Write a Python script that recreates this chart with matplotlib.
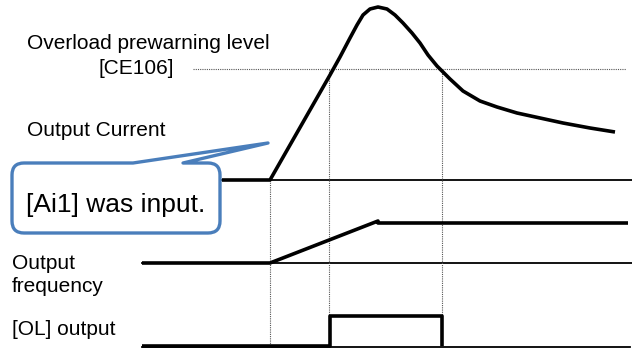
import matplotlib
matplotlib.use('Agg')
import matplotlib.pyplot as plt
from matplotlib.path import Path
from matplotlib.patches import PathPatch

# everything is in picture units (x right, y down)
# output current curve
cur_x = [222, 270, 330, 340, 350, 357, 363, 370, 378, 387, 395, 403, 412, 420, 428, 437,
         445, 450, 463, 480, 497, 517, 540, 563, 590, 615]
cur_y = [180, 180, 75, 57, 38, 25, 15, 9, 7, 9, 15, 23, 33, 43, 55, 66,
         74, 79, 91, 101, 107, 113, 118, 123, 128, 132]

# output frequency
frq_x = [142, 270, 378, 378, 628]
frq_y = [263, 263, 221, 223, 223]

# [OL] output
ol_x = [142, 330, 330, 442, 442]
ol_y = [346, 346, 316, 316, 346]

level_y = 69          # overload prewarning level [CE106]
cross_x = [329, 442]  # where current crosses the level
start_x = 270         # [Ai1] input

fig = plt.figure(figsize=(6.32, 3.49), dpi=100)
ax = fig.add_axes([0, 0, 1, 1])
ax.set_xlim(0, 632)
ax.set_ylim(349, 0)
ax.axis('off')

thick = 2.6
thin = 1.3
dot = dict(color='#555555', lw=0.8, linestyle=(0, (1, 1)))

# baselines
ax.plot([222, 632], [180, 180], color='black', lw=thin)
ax.plot([142, 632], [263, 263], color='black', lw=thin)
ax.plot([142, 630], [346.5, 346.5], color='black', lw=thin)

# threshold + guide lines
ax.plot([193, 626], [level_y, level_y], **dot)
ax.plot([start_x, start_x], [180, 347], **dot)
for cx in cross_x:
    ax.plot([cx, cx], [level_y, 316], **dot)

# signals
ax.plot(cur_x, cur_y, color='black', lw=thick, solid_capstyle='butt', solid_joinstyle='round')
ax.plot(frq_x, frq_y, color='black', lw=thick, solid_capstyle='butt')
ax.plot(ol_x, ol_y, color='black', lw=thick, solid_capstyle='butt')

# callout box with pointer
x0, x1, y0, y1, r = 12, 220, 163, 233, 12
verts = [(133, y0), (268, 143), (183, y0), (x1 - r, y0),
         (x1, y0), (x1, y0 + r), (x1, y1 - r),
         (x1, y1), (x1 - r, y1), (x0 + r, y1),
         (x0, y1), (x0, y1 - r), (x0, y0 + r),
         (x0, y0), (x0 + r, y0), (133, y0)]
codes = [Path.MOVETO, Path.LINETO, Path.LINETO, Path.LINETO,
         Path.CURVE3, Path.CURVE3, Path.LINETO,
         Path.CURVE3, Path.CURVE3, Path.LINETO,
         Path.CURVE3, Path.CURVE3, Path.LINETO,
         Path.CURVE3, Path.CURVE3, Path.CLOSEPOLY]
ax.add_patch(PathPatch(Path(verts, codes), facecolor='white', edgecolor='#4a7ebb',
                       lw=2.4, joinstyle='round', zorder=5))

font = 'Liberation Sans'
ax.text(27, 49, 'Overload prewarning level', fontsize=15, family=font, va='baseline')
ax.text(174, 74, '[CE106]', fontsize=15, family=font, va='baseline', ha='right')
ax.text(27, 136, 'Output Current', fontsize=15, family=font, va='baseline')
ax.text(26, 212, '[Ai1] was input.', fontsize=19, family=font, va='baseline', zorder=6)
ax.text(12, 269, 'Output', fontsize=15, family=font, va='baseline')
ax.text(12, 292, 'frequency', fontsize=15, family=font, va='baseline')
ax.text(12, 335, '[OL] output', fontsize=15, family=font, va='baseline')

fig.savefig('out.png', dpi=100)
